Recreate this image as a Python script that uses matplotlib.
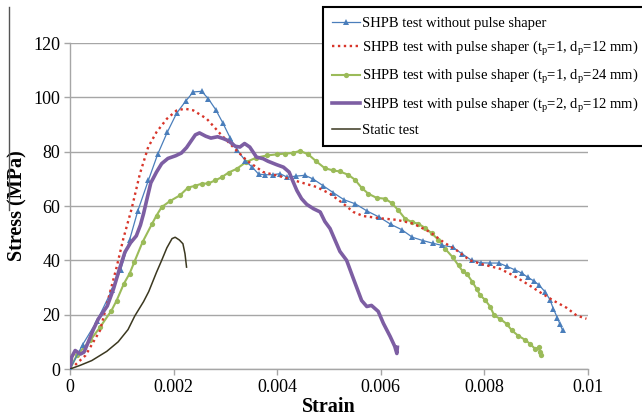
import matplotlib
matplotlib.use('Agg')
import matplotlib.pyplot as plt
from matplotlib.lines import Line2D

# ------------------------------------------------------------------------------
# Data (strain, stress in MPa)
# ------------------------------------------------------------------------------
strain_nops = [0, 0.000245, 0.000515, 0.000805, 0.000978, 0.00115, 0.001307,
               0.001512, 0.001692, 0.001879, 0.00206, 0.002233, 0.00238,
               0.002542, 0.00267, 0.002812, 0.002947, 0.003089, 0.00323,
               0.003388, 0.003523, 0.003643, 0.00377, 0.003913, 0.004054,
               0.004195, 0.004363, 0.004537, 0.004697, 0.004884, 0.005083,
               0.00529, 0.005508, 0.00574, 0.005971, 0.006197, 0.006403,
               0.006608, 0.006809, 0.007002, 0.007181, 0.007388, 0.007568,
               0.007755, 0.007928, 0.008108, 0.008282, 0.00843, 0.00859,
               0.00872, 0.008836, 0.008964, 0.00906, 0.009176, 0.009266,
               0.00933, 0.009408, 0.00946, 0.009511]
stress_nops = [0, 9.0, 17.5, 28.9, 36.5, 47.5, 58.1, 69.4, 79.0, 87.2, 94.2,
               98.6, 102.0, 102.2, 99.5, 95.5, 90.7, 85.2, 80.5, 76.6, 74.2,
               71.7, 71.5, 71.5, 71.9, 70.6, 71.0, 71.3, 69.9, 67.5, 64.9,
               62.3, 60.8, 58.1, 55.9, 53.2, 51.3, 48.5, 47.3, 46.3, 45.5,
               44.9, 42.4, 40.0, 39.1, 39.0, 39.0, 37.8, 36.5, 35.3, 33.8,
               32.3, 30.8, 28.3, 25.5, 22.2, 18.9, 16.4, 14.2]

strain_ps1 = [0.0001, 0.0003, 0.00058, 0.0009, 0.00103, 0.00119, 0.00135,
              0.00151, 0.00167, 0.00187, 0.00206, 0.00222, 0.00238, 0.00264,
              0.0029, 0.00315, 0.00341, 0.00373, 0.00412, 0.00444, 0.00476,
              0.00502, 0.00528, 0.00547, 0.00566, 0.00598, 0.00631, 0.00663,
              0.00695, 0.00721, 0.00747, 0.00772, 0.00795, 0.0083, 0.00856,
              0.00882, 0.00907, 0.00933, 0.00959, 0.00978, 0.00997]
stress_ps1 = [1.5, 5.0, 14.2, 37.5, 48.0, 59.0, 71.9, 81.7, 87.2, 92.1, 95.2,
              95.8, 95.2, 92.1, 86.6, 81.7, 76.8, 72.5, 70.6, 68.8, 67.0,
              64.5, 60.8, 57.8, 56.3, 55.5, 54.9, 53.5, 50.4, 46.7, 43.6,
              40.0, 38.6, 36.9, 34.4, 31.4, 28.3, 25.2, 22.5, 19.7, 18.5]

strain_ps2 = [0, 0.00013, 0.00039, 0.00058, 0.0008, 0.0009, 0.00104, 0.00115,
              0.00124, 0.0014, 0.00158, 0.00167, 0.00177, 0.00193, 0.00212,
              0.00228, 0.00241, 0.00254, 0.00267, 0.0028, 0.00293, 0.00306,
              0.00322, 0.0034, 0.0036, 0.0038, 0.00399, 0.00415, 0.0043,
              0.00444, 0.0046, 0.00475, 0.00492, 0.00508, 0.00521, 0.00537,
              0.0055, 0.00563, 0.00576, 0.00592, 0.00608, 0.00621, 0.00634,
              0.00647, 0.0066, 0.00672, 0.00685, 0.00698, 0.00711, 0.00724,
              0.00739, 0.0075, 0.00758, 0.00767, 0.00777, 0.00785, 0.00792,
              0.00801, 0.00811, 0.00819, 0.0083, 0.00843, 0.00853, 0.00865,
              0.00878, 0.00888, 0.00898, 0.00905, 0.00907, 0.0091]
stress_ps2 = [0, 5.0, 10.5, 15.4, 21.5, 25.2, 31.4, 35.1, 39.3, 46.7, 53.3,
              56.5, 59.6, 61.8, 63.9, 66.8, 67.4, 68.2, 68.3, 69.4, 70.6,
              72.3, 73.7, 76.2, 77.8, 78.6, 79.0, 79.3, 79.5, 80.3, 79.0,
              76.5, 73.9, 73.1, 72.7, 71.5, 69.7, 66.7, 64.5, 63.0, 62.7,
              61.1, 58.4, 55.3, 54.1, 53.5, 52.0, 50.0, 47.6, 44.3, 41.1,
              38.1, 36.0, 34.8, 32.0, 29.5, 27.1, 25.5, 23.0, 19.7, 18.5,
              16.6, 14.2, 12.3, 10.8, 9.3, 7.4, 8.0, 6.2, 5.3]

strain_ps3 = [0, 0.00003, 0.0001, 0.0002, 0.00027, 0.00035, 0.00045, 0.00055,
              0.00064, 0.00072, 0.00084, 0.00095, 0.00106, 0.00117, 0.00128,
              0.00136, 0.00142, 0.00148, 0.00156, 0.00167, 0.00177, 0.00189,
              0.00204, 0.00215, 0.00225, 0.00234, 0.00242, 0.0025, 0.00262,
              0.00272, 0.00285, 0.00296, 0.00306, 0.00319, 0.00328, 0.00337,
              0.00347, 0.0036, 0.00373, 0.00382, 0.00399, 0.00412, 0.00423,
              0.00431, 0.00438, 0.00447, 0.00457, 0.0047, 0.00483, 0.00492,
              0.00502, 0.00521, 0.00534, 0.00547, 0.00563, 0.00573, 0.00582,
              0.00595, 0.00605, 0.00618, 0.00627, 0.00631, 0.00632]
stress_ps3 = [0, 4.3, 6.8, 5.5, 6.2, 9.8, 14.5, 18.5, 21.0, 23.2, 29.5, 36.5,
              43.0, 46.5, 49.0, 53.0, 57.2, 62.1, 68.5, 72.5, 75.6, 77.5,
              78.5, 79.5, 81.5, 84.0, 86.2, 86.9, 85.7, 85.0, 85.5, 84.8,
              84.0, 82.0, 81.7, 83.0, 81.7, 78.0, 77.4, 76.5, 75.2, 74.3,
              72.5, 68.8, 65.7, 62.7, 60.6, 59.0, 57.8, 54.3, 51.7, 43.3,
              40.0, 33.3, 25.2, 23.0, 23.4, 21.2, 16.8, 12.0, 8.3, 5.7, 8.0]

strain_static = [0, 0.00019, 0.00042, 0.00071, 0.00093, 0.00112, 0.00125,
                 0.00142, 0.00152, 0.00167, 0.00177, 0.00187, 0.00197,
                 0.00203, 0.00211, 0.00218, 0.00222, 0.00225]
stress_static = [0, 1.3, 3.1, 6.5, 10.0, 14.5, 19.5, 24.8, 28.5, 35.6, 40.0,
                 44.6, 48.0, 48.5, 47.5, 46.1, 42.4, 37.5]

labels = ['SHPB test without pulse shaper',
          'SHPB test with pulse shaper (t$_\\mathregular{p}$=1, '
          'd$_\\mathregular{p}$=12 mm)',
          'SHPB test with pulse shaper (t$_\\mathregular{p}$=1, '
          'd$_\\mathregular{p}$=24 mm)',
          'SHPB test with pulse shaper (t$_\\mathregular{p}$=2, '
          'd$_\\mathregular{p}$=12 mm)',
          'Static test']

x_ticks = [0, 0.002, 0.004, 0.006, 0.008, 0.01]
x_ticklabels = ['0', '0.002', '0.004', '0.006', '0.008', '0.01']
y_ticks = [0, 20, 40, 60, 80, 100, 120]

# ------------------------------------------------------------------------------
# Style
# ------------------------------------------------------------------------------
plt.rcParams['font.family'] = ['Liberation Serif', 'DejaVu Serif']
plt.rcParams['mathtext.fontset'] = 'custom'
plt.rcParams['mathtext.rm'] = 'Liberation Serif'

col_blue = '#4a7ebb'
col_red = '#d8352a'
col_green = '#9bbb59'
col_purple = '#7d5ea3'
col_static = '#3b3820'
col_grid = '#a6a6a6'

# ------------------------------------------------------------------------------
# Plot
# ------------------------------------------------------------------------------
fig = plt.figure(figsize=(6.42, 4.17), dpi=100)
ax = fig.add_axes([70/642, 1-369/417, 518/642, 326/417])

ax.plot(strain_nops, stress_nops, color=col_blue, linewidth=0.9,
        marker='^', markersize=5, markeredgewidth=0, label=labels[0],
        zorder=3)
ax.plot(strain_ps1, stress_ps1, color=col_red, linewidth=1.7,
        linestyle=(0, (1, 1.5)), label=labels[1], zorder=4)
ax.plot(strain_ps2, stress_ps2, color=col_green, linewidth=1.5,
        marker='o', markersize=3.8, markeredgewidth=0, label=labels[2],
        zorder=2)
ax.plot(strain_ps3, stress_ps3, color=col_purple, linewidth=2.6,
        label=labels[3], zorder=5)
ax.plot(strain_static, stress_static, color=col_static, linewidth=1.1,
        label=labels[4], zorder=6)

ax.set_xlim(0, 0.01)
ax.set_ylim(0, 120)
ax.set_xticks(x_ticks)
ax.set_xticklabels(x_ticklabels)
ax.set_yticks(y_ticks)
ax.tick_params(axis='both', labelsize=13, color=col_grid, length=4,
               width=1, direction='out')
ax.tick_params(axis='x', pad=3)
ax.tick_params(axis='y', pad=3)

ax.grid(axis='y', color=col_grid, linewidth=1)
ax.set_axisbelow(True)
for side in ['top', 'right']:
    ax.spines[side].set_visible(False)
for side in ['left', 'bottom']:
    ax.spines[side].set_color(col_grid)
    ax.spines[side].set_linewidth(1)

ax.set_xlabel('Strain', fontsize=14.5, fontweight='bold', labelpad=1)
ax.set_ylabel('Stress (MPa)', fontsize=14.5, fontweight='bold', labelpad=4)

leg = ax.legend(loc='upper left', bbox_to_anchor=(323/642, 1-7/417),
                bbox_transform=fig.transFigure, borderaxespad=0,
                fontsize=10.5, frameon=True, fancybox=False,
                handlelength=1.9, handletextpad=0.15, labelspacing=0.6,
                borderpad=0.65)
leg.get_frame().set_edgecolor('black')
leg.get_frame().set_linewidth(1.5)
leg.get_frame().set_alpha(1)

# thin frame remnant at the left edge of the reference image
fig.add_artist(Line2D([9/642, 9/642], [1-7/417, 1-210/417],
                      transform=fig.transFigure, color='#555555',
                      linewidth=1))

plt.savefig('out.png', dpi=100)
